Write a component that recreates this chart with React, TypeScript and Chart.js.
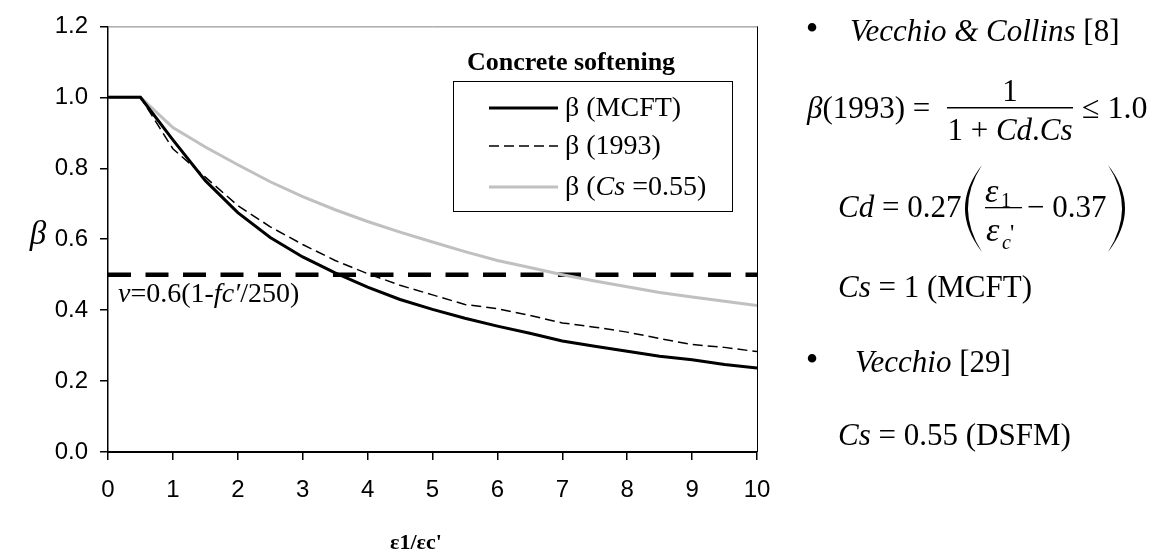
import React, { useEffect, useRef } from "react";
import { Chart, registerables } from "chart.js";

Chart.register(...registerables);

// ---------- data ----------
const X_VALUES = [0, 0.5, 1, 1.5, 2, 2.5, 3, 3.5, 4, 4.5, 5, 5.5, 6, 6.5, 7, 7.5, 8, 8.5, 9, 9.5, 10];
const BETA_MCFT = [1.0, 1.0, 0.88, 0.765, 0.675, 0.605, 0.55, 0.505, 0.465, 0.43, 0.402, 0.377, 0.355, 0.335, 0.313, 0.298, 0.284, 0.27, 0.26, 0.247, 0.237];
const BETA_1993 = [1.0, 1.0, 0.855, 0.775, 0.695, 0.635, 0.585, 0.54, 0.503, 0.47, 0.443, 0.416, 0.404, 0.385, 0.364, 0.352, 0.338, 0.32, 0.303, 0.295, 0.283];
const BETA_CS055 = [1.0, 1.0, 0.915, 0.86, 0.81, 0.762, 0.72, 0.683, 0.65, 0.62, 0.592, 0.565, 0.54, 0.52, 0.5, 0.482, 0.466, 0.45, 0.437, 0.425, 0.413];
const NU_X = [0, 10];
const NU_Y = [0.5, 0.5];
const Y_TICK_LABELS = ["0.0", "0.2", "0.4", "0.6", "0.8", "1.0", "1.2"];
const X_TICK_LABELS = ["0", "1", "2", "3", "4", "5", "6", "7", "8", "9", "10"];
const SERIES_LABELS = ["β (MCFT)", "β (1993)", "β (Cs =0.55)", "ν=0.6(1-fc′/250)"];

const SERIF = '"Liberation Serif", "Times New Roman", Times, serif';
const SANS = '"Liberation Sans", Arial, sans-serif';

type Part = [string, string];

function drawParts(ctx: CanvasRenderingContext2D, parts: Part[], x: number, y: number, align: "left" | "center" = "left") {
  ctx.textAlign = "left";
  ctx.textBaseline = "alphabetic";
  let w = 0;
  for (const [t, f] of parts) {
    ctx.font = f;
    w += ctx.measureText(t).width;
  }
  let cx = align === "center" ? x - w / 2 : x;
  for (const [t, f] of parts) {
    ctx.font = f;
    ctx.fillText(t, cx, y);
    cx += ctx.measureText(t).width;
  }
}

function paren(ctx: CanvasRenderingContext2D, x: number, top: number, bottom: number, dir: number) {
  // dir = -1 for "(", +1 for ")" ; x is the tip x (top/bottom ends)
  const mid = (top + bottom) / 2;
  ctx.beginPath();
  ctx.moveTo(x, top);
  ctx.quadraticCurveTo(x + dir * 34, mid, x, bottom);
  ctx.quadraticCurveTo(x + dir * 28, mid, x, top);
  ctx.closePath();
  ctx.fill();
}

const annotate = {
  id: "annotate",
  afterDraw(chart: any) {
    const ctx: CanvasRenderingContext2D = chart.ctx;
    const a = chart.chartArea;
    ctx.save();
    ctx.fillStyle = "#000";

    // plot frame (top & right)
    ctx.lineWidth = 1;
    ctx.strokeStyle = "#808080";
    ctx.beginPath();
    ctx.moveTo(a.left, a.top + 0.5);
    ctx.lineTo(a.right, a.top + 0.5);
    ctx.stroke();
    ctx.strokeStyle = "#000";
    ctx.beginPath();
    ctx.moveTo(a.right + 0.5, a.top);
    ctx.lineTo(a.right + 0.5, a.bottom);
    ctx.stroke();

    // legend
    ctx.fillStyle = "#fff";
    ctx.fillRect(453, 81, 279, 130);
    ctx.strokeStyle = "#000";
    ctx.lineWidth = 1;
    ctx.strokeRect(453.5, 81.5, 279, 130);
    ctx.fillStyle = "#000";
    drawParts(ctx, [["Concrete softening", `bold 26px ${SERIF}`]], 571, 70, "center");

    const L = `28px ${SERIF}`;
    const LI = `italic 28px ${SERIF}`;
    const rows = [108, 146, 187];
    ctx.setLineDash([]);
    ctx.strokeStyle = "#000";
    ctx.lineWidth = 3;
    ctx.beginPath(); ctx.moveTo(489, rows[0]); ctx.lineTo(558, rows[0]); ctx.stroke();
    ctx.lineWidth = 1.5;
    ctx.setLineDash([10, 5]);
    ctx.beginPath(); ctx.moveTo(489, rows[1]); ctx.lineTo(558, rows[1]); ctx.stroke();
    ctx.setLineDash([]);
    ctx.strokeStyle = "#c0c0c0";
    ctx.lineWidth = 3;
    ctx.beginPath(); ctx.moveTo(489, rows[2]); ctx.lineTo(558, rows[2]); ctx.stroke();

    drawParts(ctx, [[SERIES_LABELS[0], L]], 565, rows[0] + 8);
    drawParts(ctx, [[SERIES_LABELS[1], L]], 565, rows[1] + 8);
    drawParts(ctx, [["β (", L], ["Cs", LI], [" =0.55)", L]], 565, rows[2] + 8);

    // nu label
    const N = `28px ${SERIF}`;
    const NI = `italic 28px ${SERIF}`;
    drawParts(ctx, [["ν", NI], ["=0.6(1-", N], ["fc′", NI], ["/250)", N]], 118, 302);

    // axis titles
    drawParts(ctx, [["β", `italic 33px ${SERIF}`]], 38, 244, "center");
    drawParts(ctx, [["ε1/εc'", `bold 22px ${SERIF}`]], 416, 549, "center");

    // right-hand equations
    const R = `31px ${SERIF}`;
    const I = `italic 31px ${SERIF}`;
    const S = `20px ${SERIF}`;
    const SI = `italic 20px ${SERIF}`;
    const IL = `italic 34px ${SERIF}`;

    ctx.font = `36px ${SERIF}`;
    ctx.textAlign = "center";
    ctx.textBaseline = "middle";
    ctx.fillText("•", 812, 31);
    ctx.fillText("•", 812, 362);

    drawParts(ctx, [["Vecchio & Collins", I], [" [8]", R]], 850, 41);

    drawParts(ctx, [["β", I], ["(1993) =", R]], 807, 118);
    ctx.fillRect(947, 107, 126, 1.5);
    drawParts(ctx, [["1", R]], 1010, 101, "center");
    drawParts(ctx, [["1 + ", R], ["Cd", I], [".", R], ["Cs", I]], 1010, 140, "center");
    drawParts(ctx, [["≤ 1.0", `32px ${SERIF}`]], 1082, 118);

    drawParts(ctx, [["Cd", I], [" = 0.27", R]], 838, 217);
    paren(ctx, 982, 165, 252, -1);
    paren(ctx, 1108, 165, 252, 1);
    // small fraction
    drawParts(ctx, [["ε", IL]], 985, 202);
    drawParts(ctx, [["1", S]], 1001, 207);
    ctx.fillRect(985, 207, 37, 1.3);
    drawParts(ctx, [["ε", IL]], 986, 241);
    drawParts(ctx, [["c", SI]], 1002, 249);
    drawParts(ctx, [["'", `24px ${SERIF}`]], 1010, 240);
    drawParts(ctx, [["− 0.37", R]], 1027, 217);

    drawParts(ctx, [["Cs", I], [" = 1 (MCFT)", R]], 838, 297);
    drawParts(ctx, [["Vecchio", I], [" [29]", R]], 855, 372);
    drawParts(ctx, [["Cs", I], [" = 0.55 (DSFM)", R]], 838, 445);

    ctx.restore();
  },
};

function pts(xs: number[], ys: number[]) {
  return xs.map((x, i) => ({ x, y: ys[i] }));
}

export default function App() {
  const ref = useRef<HTMLCanvasElement | null>(null);
  useEffect(() => {
    if (!ref.current) return;
    const chart = new Chart(ref.current, {
      type: "line",
      data: {
        datasets: [
          {
            label: SERIES_LABELS[0],
            data: pts(X_VALUES, BETA_MCFT),
            borderColor: "#000",
            borderWidth: 3,
            pointRadius: 0,
            tension: 0,
          },
          {
            label: SERIES_LABELS[1],
            data: pts(X_VALUES, BETA_1993),
            borderColor: "#000",
            borderWidth: 1.5,
            borderDash: [10, 5],
            pointRadius: 0,
            tension: 0,
          },
          {
            label: SERIES_LABELS[2],
            data: pts(X_VALUES, BETA_CS055),
            borderColor: "#c0c0c0",
            borderWidth: 3,
            pointRadius: 0,
            tension: 0,
          },
          {
            label: SERIES_LABELS[3],
            data: pts(NU_X, NU_Y),
            borderColor: "#000",
            borderWidth: 4.5,
            borderDash: [23, 14.5],
            borderCapStyle: "butt",
            pointRadius: 0,
            tension: 0,
          },
        ],
      },
      options: {
        responsive: false,
        animation: false,
        devicePixelRatio: 1,
        layout: { padding: { left: 0, top: 20, right: 400, bottom: 0 } },
        plugins: { legend: { display: false }, tooltip: { enabled: false } },
        events: [],
        scales: {
          x: {
            type: "linear",
            min: 0,
            max: 10,
            afterFit: (s: any) => {
              s.height = 104;
            },
            ticks: {
              stepSize: 1,
              color: "#000",
              padding: 16,
              font: { family: SANS, size: 24 },
              callback: (v: any) => X_TICK_LABELS[Math.round(Number(v))] ?? "",
            },
            grid: { drawOnChartArea: false, drawTicks: true, tickLength: 8, color: "#000", lineWidth: 1.5 },
            border: { display: true, color: "#000", width: 2 },
          },
          y: {
            type: "linear",
            min: 0,
            max: 1.2,
            afterFit: (s: any) => {
              s.width = 108;
            },
            ticks: {
              stepSize: 0.2,
              color: "#000",
              padding: 12,
              font: { family: SANS, size: 24 },
              callback: (v: any) => Y_TICK_LABELS[Math.round(Number(v) / 0.2)] ?? "",
            },
            grid: { drawOnChartArea: false, drawTicks: true, tickLength: 8, color: "#000", lineWidth: 1.5 },
            border: { display: true, color: "#000", width: 1.5 },
          },
        },
      },
      plugins: [annotate],
    } as any);
    return () => chart.destroy();
  }, []);

  return (
    <div style={{ position: "absolute", left: 0, top: 0, width: 1157, height: 556, background: "#fff" }}>
      <canvas ref={ref} width={1157} height={556} style={{ display: "block", width: 1157, height: 556 }} />
    </div>
  );
}
